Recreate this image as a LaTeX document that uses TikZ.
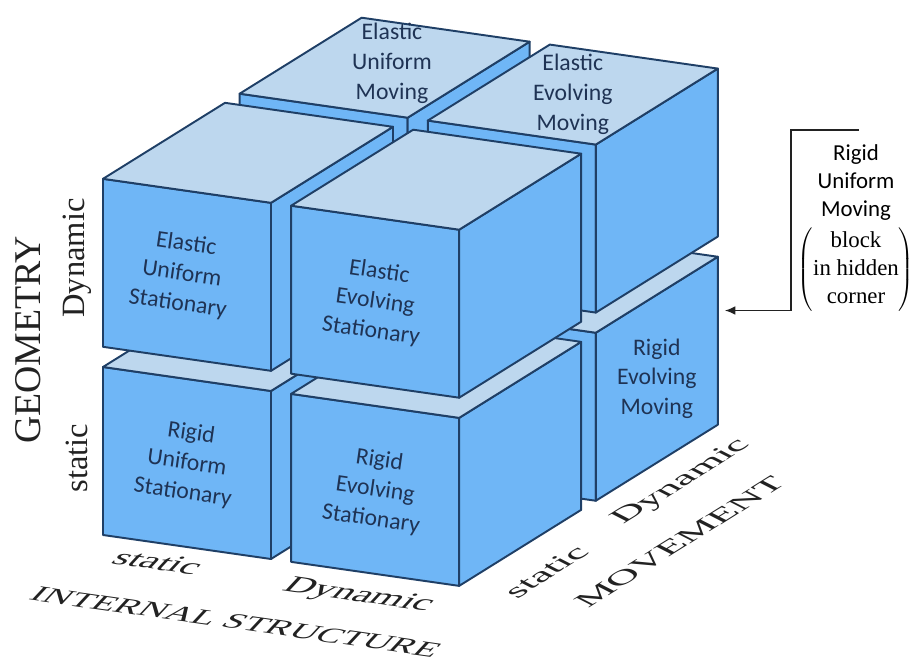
\documentclass[tikz,border=0pt]{standalone}
\usepackage{fontspec}
\setmainfont{Liberation Serif}
\newfontfamily\calibri{Carlito}
\usetikzlibrary{arrows.meta}
\usetikzlibrary{positioning}

\definecolor{cubeblue}{HTML}{6FB6F6}
\definecolor{topblue}{HTML}{BDD7EE}
\definecolor{edgeblue}{HTML}{1F3F66}
\definecolor{labelblue}{HTML}{1F3354}
\definecolor{axisgray}{HTML}{222222}

% one block: front, right and top face, origin in block units
\newcommand{\drawblock}[3]{
	\draw[sideface] (#1,#2,#3) -- ++(1,0,0) -- ++(0,1,0) -- ++(-1,0,0) -- cycle;
	\draw[sideface] (#1+1,#2,#3) -- ++(0,0,1) -- ++(0,1,0) -- ++(0,0,-1) -- cycle;
	\draw[topface] (#1,#2+1,#3) -- ++(1,0,0) -- ++(0,0,1) -- ++(-1,0,0) -- cycle;
}

\begin{document}
\begin{tikzpicture}
	\tikzstyle{sideface}=[fill=cubeblue,draw=edgeblue,line width=1.1pt,line join=round]
	\tikzstyle{topface}=[fill=topblue,draw=edgeblue,line width=1.1pt,line join=round]
	\tikzstyle{cubelabel}=[font=\calibri\fontsize{13.5}{17}\selectfont,text=labelblue,align=center,inner sep=0pt]
	\tikzstyle{axislabel}=[font=\fontsize{18.5}{20}\selectfont,text=axisgray,rotate=90,inner sep=0pt]
	\tikzstyle{groundx}=[text=axisgray,inner sep=0pt,transform shape,rotate=-8.1,xslant=0.7,xscale=1.2,yscale=0.72]
	\tikzstyle{groundz}=[text=axisgray,inner sep=0pt,transform shape,rotate=32,xslant=-0.6,xscale=1.3,yscale=0.75]
	\tikzstyle{callout}=[font=\calibri\fontsize{13}{16}\selectfont,align=center,inner sep=0pt]
	
	\useasboundingbox (0,0) rectangle (18.24,13.26);
	
	\begin{scope}[shift={(2.06,2.56)},x={(3.36cm,-0.48cm)},y={(0cm,3.36cm)},z={(2.44cm,1.52cm)}]
		% back layer (moving)
		\drawblock{0}{0}{1.12}
		\drawblock{1.12}{0}{1.12}
		\drawblock{0}{1.12}{1.12}
		\drawblock{1.12}{1.12}{1.12}
		% front layer (stationary)
		\drawblock{0}{0}{0}
		\drawblock{1.12}{0}{0}
		\drawblock{0}{1.12}{0}
		\drawblock{1.12}{1.12}{0}
		
		\node[cubelabel,rotate=-8.1] (rus) at (0.5,0.5,0) {Rigid\\Uniform\\Stationary};
		\node[cubelabel,rotate=-8.1] (res) at (1.62,0.5,0) {Rigid\\Evolving\\Stationary};
		\node[cubelabel,rotate=-8.1] (eus) at (0.47,1.62,0) {Elastic\\Uniform\\Stationary};
		\node[cubelabel,rotate=-8.1] (ees) at (1.62,1.62,0) {Elastic\\Evolving\\Stationary};
		\node[cubelabel] (eum) at (0.5,2.12,1.68) {Elastic\\Uniform\\Moving};
		\node[cubelabel] (eem) at (1.62,2.12,1.62) {Elastic\\Evolving\\Moving};
		\node[cubelabel] (rem) at (2.12,0.5,1.62) {Rigid\\Evolving\\Moving};
		\coordinate (hidden) at (2.12,0.68,2.12);
	\end{scope}
	
	% axes
	\node[axislabel,font=\fontsize{21.5}{22}\selectfont] (geometry) at (0.56,6.46) {GEOMETRY};
	\node[axislabel] (geodyn) at (1.54,8.1) {Dynamic};
	\node[axislabel] (geostat) at (1.54,4.1) {static};
	
	\node[groundx,font=\fontsize{19}{20}\selectfont] (intstat) at (3.16,2.02) {static};
	\node[groundx,font=\fontsize{19}{20}\selectfont] (intdyn) at (7.16,1.34) {Dynamic};
	\node[groundx,font=\fontsize{17.5}{18}\selectfont] (internal) at (4.72,0.82) {INTERNAL STRUCTURE};
	
	\node[groundz,font=\fontsize{18}{19}\selectfont] (movstat) at (10.92,1.82) {static};
	\node[groundz,font=\fontsize{18}{19}\selectfont] (movdyn) at (13.64,3.62) {Dynamic};
	\node[groundz,font=\fontsize{17.8}{18}\selectfont] (movement) at (13.6,2.42) {MOVEMENT};
	
	% hidden block callout
	\node[callout] (hiddenlabel) at (17.12,8.7) {Rigid\\Uniform\\Moving\\[3pt]
		$\left(\begin{array}{@{}c@{}}\textrm{block}\\ \textrm{in hidden}\\ \textrm{corner}\end{array}\right)$};
	\coordinate (calltop) at (17.18,10.66);
	\coordinate (callbend) at (15.82,10.66);
	\draw[draw=axisgray,line width=0.9pt,-{Latex[length=6pt,width=5pt]},shorten >=4pt]
		(calltop) -- (callbend) |- (hidden);
\end{tikzpicture}
\end{document}
